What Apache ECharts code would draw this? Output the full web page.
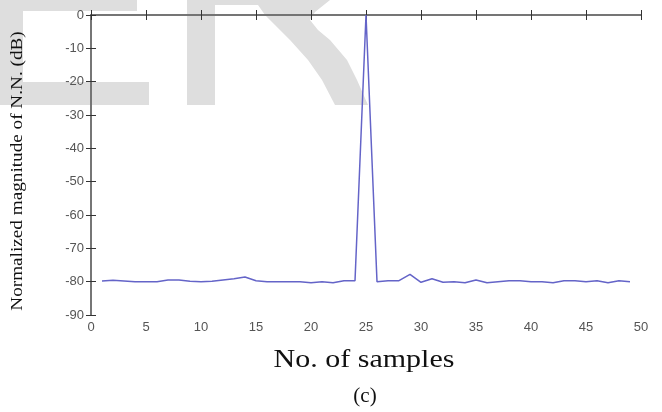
<!DOCTYPE html>
<html>
<head>
<meta charset="utf-8">
<script src="https://cdn.jsdelivr.net/npm/echarts@6/dist/echarts.min.js"></script>
<style>html,body{margin:0;padding:0;background:#fff;}#c{width:662px;height:412px;}</style>
</head>
<body>
<div id="c"></div>
<script>
var samples = [1,2,3,4,5,6,7,8,9,10,11,12,13,14,15,16,17,18,19,20,21,22,23,24,25,26,27,28,29,30,31,32,33,34,35,36,37,38,39,40,41,42,43,44,45,46,47,48,49];
var magnitudeDb = [-79.8,-79.6,-79.8,-80,-80,-80,-79.5,-79.5,-79.9,-80,-79.9,-79.5,-79.1,-78.6,-79.7,-80,-80,-80,-80,-80.3,-80,-80.3,-79.7,-79.7,0,-80,-79.7,-79.7,-77.8,-80.2,-79.1,-80.2,-80,-80.3,-79.5,-80.3,-80,-79.7,-79.7,-80,-80,-80.3,-79.7,-79.7,-80,-79.7,-80.3,-79.7,-80];
var xTitle = 'No. of samples';
var yTitle = 'Normalized magnitude of N.N. (dB)';
var subLabel = '(c)';

var chart = echarts.init(document.getElementById('c'));
var wm = '#dedede';
var axisCol = '#6e6e6e';
var lblStyle = {color:'#555', fontFamily:'Liberation Sans, Arial, sans-serif', fontSize:13};
chart.setOption({
  animation:false,
  grid:{left:91, right:21, top:15, bottom:97},
  xAxis:[{
    type:'value', min:0, max:50, interval:5,
    axisLine:{lineStyle:{color:axisCol, width:1.5}},
    axisTick:{inside:true, length:5, lineStyle:{color:'#333'}},
    axisLabel:Object.assign({margin:6}, lblStyle),
    splitLine:{show:false}
  },{
    type:'value', position:'top', min:0, max:50, interval:5,
    axisLine:{show:true, lineStyle:{color:axisCol, width:1.5}},
    axisTick:{inside:true, length:5, lineStyle:{color:'#333'}},
    axisLabel:{show:false}, splitLine:{show:false}
  }],
  yAxis:[{
    type:'value', min:-90, max:0, interval:10,
    axisLine:{show:true, lineStyle:{color:axisCol, width:1.5}},
    axisTick:{show:true, inside:true, length:5, lineStyle:{color:'#333'}},
    axisLabel:Object.assign({margin:7}, lblStyle),
    splitLine:{show:false}
  },{
    type:'value', position:'right', min:-90, max:0, interval:10,
    axisLine:{show:true, lineStyle:{color:axisCol, width:1.5}},
    axisTick:{show:true, inside:true, length:5, lineStyle:{color:'#333'}},
    axisLabel:{show:false}, splitLine:{show:false}
  }],
  series:[{
    type:'line',
    data:samples.map(function(s,i){return [s, magnitudeDb[i]];}),
    showSymbol:false, symbol:'none',
    lineStyle:{color:'#6464c8', width:1.5},
    z:5
  }],
  graphic:[
    {type:'rect', z:-10, shape:{x:0,y:0,width:137,height:11}, style:{fill:wm}},
    {type:'rect', z:-10, shape:{x:0,y:0,width:23,height:105}, style:{fill:wm}},
    {type:'rect', z:-10, shape:{x:0,y:82,width:149,height:23}, style:{fill:wm}},
    {type:'rect', z:-10, shape:{x:187,y:0,width:28,height:105}, style:{fill:wm}},
    {type:'polygon', z:-10, shape:{points:[[215,0],[330,0],[315,12],[310,20],[318,30],[330,40],[347,60],[357,80],[368,105],[335,105],[322,80],[308,60],[290,40],[275,25],[265,15],[258,5],[215,5]]}, style:{fill:wm}},
    {type:'text', left:'center', x:0, style:{text:''}},
    {type:'text', x:364, y:360, scaleX:1.2, style:{text:xTitle, fill:'#111', font:'25px "Liberation Serif", "Times New Roman", serif', textAlign:'center', textVerticalAlign:'middle'}},
    {type:'text', x:365, y:396, style:{text:subLabel, fill:'#111', font:'21px "Liberation Serif", "Times New Roman", serif', textAlign:'center', textVerticalAlign:'middle'}},
    {type:'text', x:18, y:171, rotation:Math.PI/2, scaleX:1.2, style:{text:yTitle, fill:'#111', font:'16px "Liberation Serif", "Times New Roman", serif', textAlign:'center', textVerticalAlign:'middle'}}
  ]
});
</script>
</body>
</html>
